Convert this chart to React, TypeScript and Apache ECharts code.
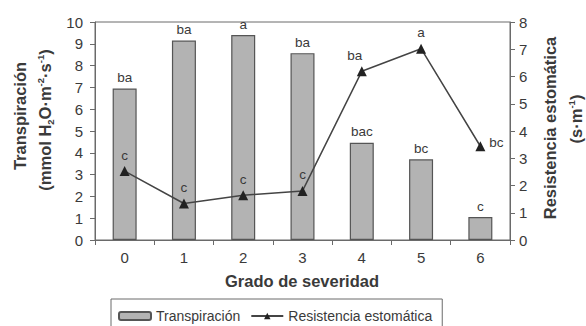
import React, { useEffect, useRef } from "react";
import * as echarts from "echarts";

const categories = ["0", "1", "2", "3", "4", "5", "6"];
const transpiracion = [6.95, 9.15, 9.4, 8.57, 4.46, 3.7, 1.05];
const resistencia = [2.53, 1.34, 1.64, 1.8, 6.19, 7.02, 3.44];
const barLetters = ["ba", "ba", "a", "ba", "bac", "bc", "c"];
const lineLetters = ["c", "c", "c", "c", "ba", "a", "bc"];

const FONT = "'Liberation Sans', Arial, sans-serif";
const TXT = "#3a3a3a";

export default function App() {
  const ref = useRef<HTMLDivElement>(null);
  useEffect(() => {
    document.body.style.margin = "0";
    if (!ref.current) return;
    const chart = echarts.init(ref.current, null, { renderer: "svg" });
    const baseLabel = {
      show: true,
      fontFamily: FONT,
      fontSize: 13.5,
      color: TXT,
      position: "top",
      distance: 4,
    };
    const lineData = resistencia.map((v, i) => {
      let label: any = { ...baseLabel, formatter: lineLetters[i] };
      if (i === 4) label = { ...label, offset: [-7, 0] };
      if (i === 6) label = { ...label, position: "right", offset: [0, -4] };
      return { value: v, label };
    });
    const titleStyle = {
      fontFamily: FONT,
      fontSize: 16.5,
      fontWeight: "bold",
      fill: TXT,
      align: "center",
      verticalAlign: "middle",
    };
    const rich = {
      b: { fontFamily: FONT, fontSize: 16.5, fontWeight: "bold", lineHeight: 20, color: TXT },
      sup: { fontFamily: FONT, fontSize: 9.5, fontWeight: "bold", lineHeight: 10, verticalAlign: "top", color: TXT },
      sub: { fontFamily: FONT, fontSize: 9.5, fontWeight: "bold", lineHeight: 10, verticalAlign: "bottom", color: TXT },
    };
    chart.setOption({
      animation: false,
      backgroundColor: "#ffffff",
      grid: {
        left: 95,
        right: 76,
        top: 22,
        bottom: 86,
        show: true,
        borderColor: "#6a6a6a",
        borderWidth: 1,
      },
      legend: {
        left: 111,
        top: 299,
        padding: [10, 10, 10, 7],
        borderColor: "#6a6a6a",
        borderWidth: 1,
        borderRadius: 0,
        itemGap: 10,
        itemWidth: 32,
        itemHeight: 8,
        textStyle: { fontFamily: FONT, fontSize: 14, color: TXT },
        data: ["Transpiración", "Resistencia estomática"],
      },
      xAxis: {
        type: "category",
        data: categories,
        boundaryGap: true,
        axisLine: { lineStyle: { color: "#6a6a6a", width: 1 } },
        axisTick: { show: true, length: 5, alignWithLabel: false, lineStyle: { color: "#6a6a6a" } },
        axisLabel: { fontFamily: FONT, fontSize: 15, color: TXT, margin: 10 },
      },
      yAxis: [
        {
          type: "value",
          min: 0,
          max: 10,
          interval: 1,
          position: "left",
          splitLine: { show: false },
          axisLine: { show: true, lineStyle: { color: "#6a6a6a", width: 1 } },
          axisTick: { show: true, length: 5, lineStyle: { color: "#6a6a6a" } },
          axisLabel: { fontFamily: FONT, fontSize: 15, color: TXT, margin: 12 },
        },
        {
          type: "value",
          min: 0,
          max: 8,
          interval: 1,
          position: "right",
          splitLine: { show: false },
          axisLine: { show: true, lineStyle: { color: "#6a6a6a", width: 1 } },
          axisTick: { show: true, length: 5, lineStyle: { color: "#6a6a6a" } },
          axisLabel: { fontFamily: FONT, fontSize: 15, color: TXT, margin: 9 },
        },
      ],
      series: [
        {
          name: "Transpiración",
          type: "bar",
          yAxisIndex: 0,
          data: transpiracion,
          barWidth: 24,
          itemStyle: { color: "#b3b3b3", borderColor: "#555555", borderWidth: 1.2 },
          label: {
            ...baseLabel,
            formatter: (p: any) => barLetters[p.dataIndex],
          },
        },
        {
          name: "Resistencia estomática",
          type: "line",
          yAxisIndex: 1,
          data: lineData,
          symbol: "triangle",
          symbolSize: 10,
          lineStyle: { color: "#444444", width: 1.5 },
          itemStyle: { color: "#222222" },
          label: { ...baseLabel },
          z: 5,
        },
      ],
      graphic: [
        {
          type: "text",
          x: 20,
          y: 116,
          rotation: Math.PI / 2,
          style: { ...titleStyle, text: "Transpiración" },
        },
        {
          type: "text",
          x: 45,
          y: 120,
          rotation: Math.PI / 2,
          style: {
            ...titleStyle,
            text: "{b|(mmol H}{sub|2}{b|O·m}{sup|-2}{b|·s}{sup|-1}{b|)}",
            rich,
          },
        },
        {
          type: "text",
          x: 550,
          y: 128,
          rotation: Math.PI / 2,
          style: { ...titleStyle, text: "Resistencia estomática" },
        },
        {
          type: "text",
          x: 576,
          y: 119,
          rotation: Math.PI / 2,
          style: {
            ...titleStyle,
            text: "{b|(s·m}{sup|-1}{b|)}",
            rich,
          },
        },
        {
          type: "text",
          x: 302,
          y: 281,
          style: { ...titleStyle, text: "Grado de severidad" },
        },
      ],
    });
    return () => chart.dispose();
  }, []);
  return <div ref={ref} style={{ width: 586, height: 326 }} />;
}
